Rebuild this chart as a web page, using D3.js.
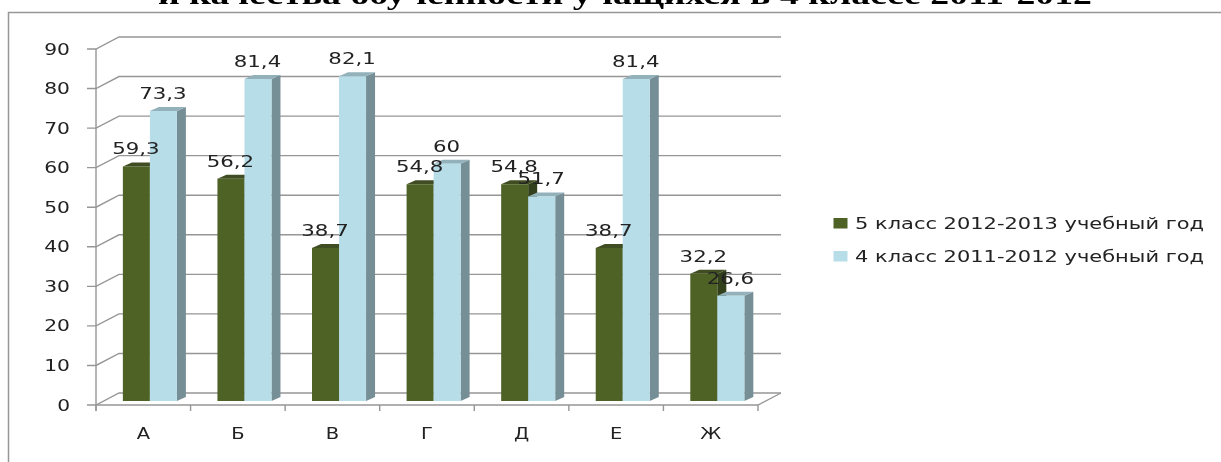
<!DOCTYPE html>
<html><head><meta charset="utf-8">
<style>html,body{margin:0;padding:0;background:#fff}svg{display:block}</style>
<script src="https://cdn.jsdelivr.net/npm/d3@7/dist/d3.min.js"></script></head>
<body><script>
const categories = ["А","Б","В","Г","Д","Е","Ж"];
const seriesNames = ["5 класс 2012-2013 учебный год","4 класс 2011-2012 учебный год"];
const grade5 = [59.3,56.2,38.7,54.8,54.8,38.7,32.2];
const grade4 = [73.3,81.4,82.1,60,51.7,81.4,26.6];
const labels5 = ["59,3","56,2","38,7","54,8","54,8","38,7","32,2"];
const labels4 = ["73,3","81,4","82,1","60","51,7","81,4","26,6"];
const yTicks = [0,10,20,30,40,50,60,70,80,90];
const titleText = "и качества обученности учащихся в 4 классе 2011-2012";
const colors = [{f:"#4f6228",s:"#333f1a",t:"#3f4e20"},{f:"#b7dde8",s:"#768f97",t:"#92b1ba"}];
const W=1221,H=462;
const svg=d3.select("body").append("svg").attr("width",W).attr("height",H).attr("filter","url(#b)");
svg.append("defs").append("filter").attr("id","b").attr("x",0).attr("y",0).attr("width","100%").attr("height","100%")
  .append("feGaussianBlur").attr("stdDeviation",0.45);
svg.append("rect").attr("width",W).attr("height",H).attr("fill","#fff");
const grey="#969696";
const x=d3.scaleBand().domain(categories).range([96,758]);
const y=d3.scaleLinear().domain([0,90]).range([405,49]);
const inner=d3.scaleBand().domain([0,1]).range([0,x.bandwidth()]).paddingInner(0).paddingOuter(0.75);
const wall={dx:23,dy:-12}, barOff={dx:6.6,dy:-4}, depth={dx:9,dy:-4};
// frame
svg.append("path").attr("d","M8.5,462V12.5H1221").attr("fill","none").attr("stroke",grey).attr("stroke-width",1.5);
// title
svg.append("text").text(titleText).attr("x",625).attr("y",4).attr("text-anchor","middle")
  .attr("font-family","Liberation Serif").attr("font-weight","bold").attr("font-size",28).attr("textLength",934).attr("lengthAdjust","spacingAndGlyphs").attr("fill","#000");
// grid
const g=svg.append("g").attr("fill","none").attr("stroke",grey).attr("stroke-width",1.4);
yTicks.forEach(t=>{
  const yy=y(t);
  g.append("path").attr("d",`M87,${yy}H96L${96+wall.dx},${yy+wall.dy}H${758+wall.dx}`);
});
g.append("path").attr("d",`M96,${y(90)}V${y(0)+6}`);
g.append("path").attr("d",`M96,${y(0)}H758L${758+wall.dx},${y(0)+wall.dy}`);
[...categories.map(c=>x(c)),758].forEach(px=>g.append("path").attr("d",`M${px},${y(0)}V${y(0)+6}`));
// text helper
function txt(s,px,py,anchor,size,sx){
  return svg.append("text").text(s).attr("transform",`translate(${px},${py}) scale(${sx},1)`)
   .attr("text-anchor",anchor).attr("font-family","DejaVu Sans").attr("font-size",size).attr("fill","#222");
}
yTicks.forEach(t=>txt(String(t),70,y(t)+5.5,"end",15,1.35));
categories.forEach(c=>txt(c,x(c)+x.bandwidth()/2,y(0)+34,"middle",15,1.3));
// bars
const series=[grade5,grade4], lab=[labels5,labels4];
[0,1].forEach(s=>{
  categories.forEach((c,i)=>{
    const v=series[s][i];
    const x0=x(c)+inner(s)+barOff.dx, w=inner.bandwidth();
    const y0=y(0)+barOff.dy, yt=y(v)+barOff.dy, col=colors[s];
    const b=svg.append("g");
    b.append("path").attr("d",`M${x0+w},${yt}l${depth.dx},${depth.dy}V${y0+depth.dy}l${-depth.dx},${-depth.dy}Z`).attr("fill",col.s);
    b.append("path").attr("d",`M${x0},${yt}l${depth.dx},${depth.dy}h${w}l${-depth.dx},${-depth.dy}Z`).attr("fill",col.t);
    b.append("rect").attr("x",x0).attr("y",yt).attr("width",w).attr("height",y0-yt).attr("fill",col.f);
  });
});
[0,1].forEach(s=>categories.forEach((c,i)=>{
  const v=series[s][i];
  txt(lab[s][i],x(c)+inner(s)+barOff.dx+inner.bandwidth()/2-0.5,y(v)+barOff.dy-12,"middle",15,1.42);
}));
// legend
seriesNames.forEach((n,i)=>{
  const ly=223.5+i*33;
  svg.append("rect").attr("x",833.5).attr("y",ly-5.5).attr("width",14).attr("height",10.5).attr("fill",colors[i].f);
  svg.append("text").text(n).attr("x",855).attr("y",ly+5).attr("textLength",349).attr("lengthAdjust","spacingAndGlyphs")
    .attr("font-family","DejaVu Sans").attr("font-size",15).attr("fill","#222");
});
</script></body></html>
